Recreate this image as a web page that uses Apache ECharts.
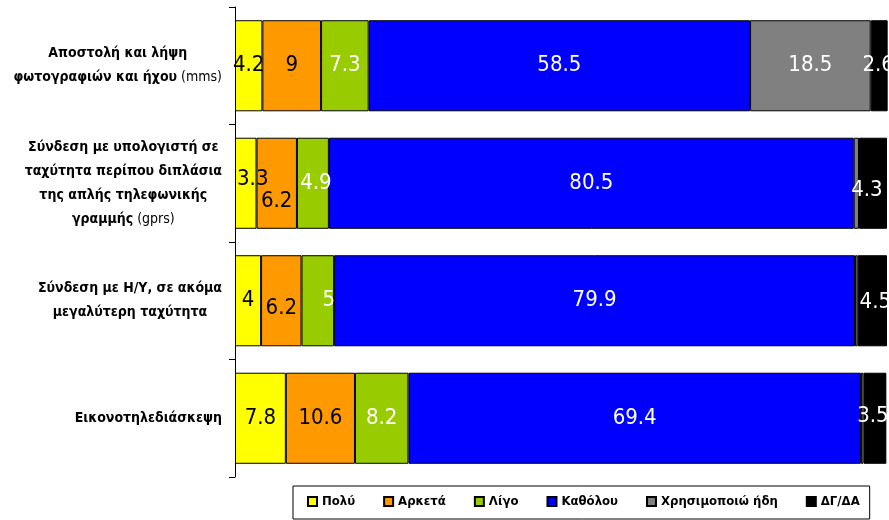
<!DOCTYPE html>
<html>
<head>
<meta charset="utf-8">
<script src="https://cdn.jsdelivr.net/npm/echarts@6/dist/echarts.min.js"></script>
<style>html,body{margin:0;padding:0;background:#fff}#c{width:889px;height:520px}</style>
</head>
<body>
<div id="c"></div>
<script>
const categories = [
  "Αποστολή και λήψη\nφωτογραφιών και ήχου (mms)",
  "Σύνδεση με υπολογιστή σε\nταχύτητα περίπου διπλάσια\nτης απλής τηλεφωνικής\nγραμμής (gprs)",
  "Σύνδεση με Η/Υ, σε ακόμα\nμεγαλύτερη ταχύτητα",
  "Εικονοτηλεδιάσκεψη"
];
const seriesNames = ["Πολύ", "Αρκετά", "Λίγο", "Καθόλου", "Χρησιμοποιώ ήδη", "ΔΓ/ΔΑ"];
const poly      = [4.2, 3.3, 4, 7.8];
const arketa    = [9, 6.2, 6.2, 10.6];
const ligo      = [7.3, 4.9, 5, 8.2];
const katholou  = [58.5, 80.5, 79.9, 69.4];
const xrisimopoio = [18.5, 0.8, 0.4, 0.4];
const dgda      = [2.6, 4.3, 4.5, 3.5];

const allValues = [poly, arketa, ligo, katholou, xrisimopoio, dgda];
const colors = ["#FFFF00", "#FF9900", "#99CC00", "#0000FF", "#808080", "#000000"];
const labelColors = ["#000", "#000", "#fff", "#fff", "#fff", "#fff"];
// manual label nudges [series][category] -> [dx, dy]
const nudges = {
  "1,1": [0, 18], "0,1": [7, -4], "2,1": [3, 0], "5,1": [-6, 7],
  "1,2": [0, 8], "2,2": [11, 0], "5,2": [3, 2],
  "5,3": [-2, -2], "5,0": [-1, 0]
};
const labelFont = "'DejaVu Sans Condensed', 'Liberation Sans Narrow', sans-serif";

const series = seriesNames.map((name, si) => ({
  name: name,
  type: 'bar',
  stack: 'total',
  barCategoryGap: '22.5%',
  clip: false,
  itemStyle: { color: colors[si], borderColor: '#000', borderWidth: 1 },
  data: allValues[si].map((v, ci) => {
    const n = nudges[si + ',' + ci];
    return {
      value: v,
      label: {
        show: v >= 1,
        offset: n ? n : [0, 0]
      }
    };
  }),
  label: {
    show: true,
    position: 'inside',
    color: labelColors[si],
    fontFamily: labelFont,
    fontSize: 22,
    formatter: p => String(p.value)
  }
}));

const chart = echarts.init(document.getElementById('c'), null, { renderer: 'canvas' });
chart.setOption({
  animation: false,
  backgroundColor: '#fff',
  grid: { left: 235, right: 2, top: 7, bottom: 43, containLabel: false, outerBoundsMode: 'none' },
  xAxis: { type: 'value', min: 0, max: 100, show: false },
  yAxis: {
    type: 'category',
    inverse: true,
    data: categories,
    axisLine: { show: true, lineStyle: { color: '#000', width: 1 } },
    axisTick: { show: true, length: 6, lineStyle: { color: '#000' } },
    axisLabel: {
      margin: 13,
      align: 'right',
      lineHeight: 24,
      formatter: function (val) {
        return val.split('\n').map(line => {
          const m = line.match(/^(.*?)(\s*\(.*\))$/);
          if (m) return '{b|' + m[1] + '}{n|' + m[2] + '}';
          return '{b|' + line + '}';
        }).join('\n');
      },
      rich: {
        b: { fontFamily: labelFont, fontWeight: 'bold', fontSize: 14, color: '#000', align: 'center', lineHeight: 24 },
        n: { fontFamily: labelFont, fontWeight: 'normal', fontSize: 14, color: '#000', align: 'center', lineHeight: 24 }
      }
    }
  },
  legend: {
    left: 293,
    top: 486,
    width: 596,
    padding: [9, 10, 11, 14],
    itemGap: 28,
    itemWidth: 9,
    itemHeight: 9,
    icon: 'rect',
    borderColor: '#000',
    borderWidth: 1,
    textStyle: { fontFamily: labelFont, fontWeight: 'bold', fontSize: 13, color: '#000' },
    data: seriesNames
  },
  series: series
});
</script>
</body>
</html>
